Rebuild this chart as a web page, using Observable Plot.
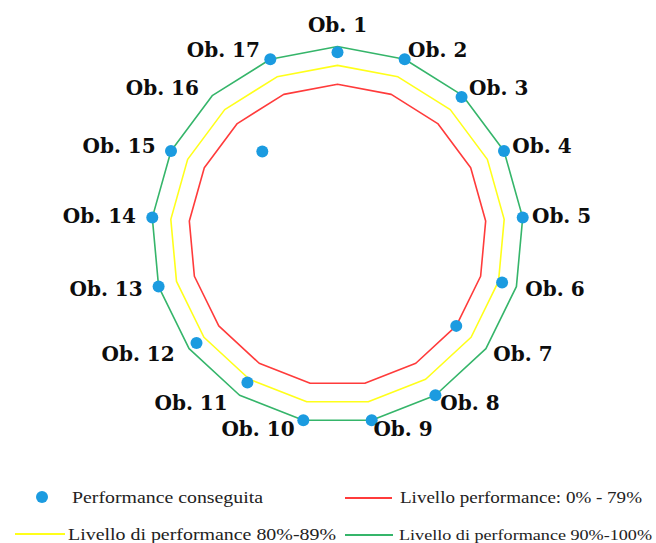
<!DOCTYPE html>
<html>
<head>
<meta charset="utf-8">
<script src="https://cdn.jsdelivr.net/npm/d3@7"></script>
<script src="https://cdn.jsdelivr.net/npm/@observablehq/plot@0.6"></script>
<style>
  html, body { margin: 0; padding: 0; background: #fff; }
  #chart svg { display: block; }
  #legend { display: block; }
</style>
</head>
<body>
<div id="chart"></div>
<svg id="legend" width="656" height="78" xmlns="http://www.w3.org/2000/svg"></svg>
<script>
// ---- Data ----
const categories = ["Ob. 1","Ob. 2","Ob. 3","Ob. 4","Ob. 5","Ob. 6","Ob. 7","Ob. 8","Ob. 9",
  "Ob. 10","Ob. 11","Ob. 12","Ob. 13","Ob. 14","Ob. 15","Ob. 16","Ob. 17"];
const performance = [97, 100, 99, 100, 100, 92, 80, 100, 100, 100, 92, 95, 100, 100, 100, 60, 100];
const levels = [80, 90, 100];
const levelColors = ["#ff3b3b", "#ffff1a", "#35b56a"];
const legendLabels = ["Performance conseguita", "Livello performance: 0% - 79%",
  "Livello di performance 80%-89%", "Livello di performance 90%-100%"];
const pointColor = "#1b9be0";

// ---- Build tables ----
const n = categories.length;
const angle = i => i * 2 * Math.PI / n;
const pts = categories.map((c, i) => ({
  c, v: performance[i],
  x: performance[i] / 100 * Math.sin(angle(i)),
  y: performance[i] / 100 * Math.cos(angle(i))
}));
const ring = (lv) => d3.range(n + 1).map(k => ({
  x: lv / 100 * Math.sin(angle(k % n)),
  y: lv / 100 * Math.cos(angle(k % n))
}));
const labelR = 1.05;
const labels = categories.map((c, i) => ({
  c, s: Math.sin(angle(i)),
  x: labelR * Math.sin(angle(i)),
  y: labelR * Math.cos(angle(i))
}));
const rightLabels = labels.filter(d => d.s > 0.05);
const leftLabels = labels.filter(d => d.s < -0.05);
const topLabels = labels.filter(d => Math.abs(d.s) <= 0.05);

const labelStyle = {fontFamily: "DejaVu Serif", fontWeight: "bold", fontSize: 20, fill: "#0d0d0d"};

const plot = Plot.plot({
  width: 656,
  height: 465,
  x: {domain: [-1, 1], range: [151, 523], axis: null},
  y: {domain: [-1, 1], range: [423, 46], axis: null},
  marks: [
    ...levels.map((lv, j) => Plot.line(ring(lv), {x: "x", y: "y", stroke: levelColors[j], strokeWidth: 1.6})),
    Plot.dot(pts, {x: "x", y: "y", r: 6, fill: pointColor}),
    Plot.text(rightLabels, {x: "x", y: "y", text: "c", textAnchor: "start", dx: 0, ...labelStyle}),
    Plot.text(leftLabels, {x: "x", y: "y", text: "c", textAnchor: "end", dx: -7, ...labelStyle}),
    Plot.text(topLabels, {x: "x", y: "y", text: "c", textAnchor: "middle", lineAnchor: "bottom", dy: -5, ...labelStyle})
  ]
});
document.getElementById("chart").appendChild(plot);

// ---- Legend ----
const lg = d3.select("#legend");
const font = "Liberation Serif";
// row 1
lg.append("circle").attr("cx", 42).attr("cy", 32).attr("r", 6).attr("fill", pointColor);
lg.append("text").attr("x", 72).attr("y", 38).attr("font-family", font).attr("font-size", 17)
  .attr("textLength", 191).attr("lengthAdjust", "spacingAndGlyphs").attr("fill", "#222").text(legendLabels[0]);
lg.append("line").attr("x1", 345).attr("x2", 392).attr("y1", 33).attr("y2", 33).attr("stroke", levelColors[0]).attr("stroke-width", 2);
lg.append("text").attr("x", 400).attr("y", 38).attr("font-family", font).attr("font-size", 17)
  .attr("textLength", 242).attr("lengthAdjust", "spacingAndGlyphs").attr("fill", "#222").text(legendLabels[1]);
// row 2
lg.append("line").attr("x1", 15).attr("x2", 65).attr("y1", 69).attr("y2", 69).attr("stroke", levelColors[1]).attr("stroke-width", 2);
lg.append("text").attr("x", 68).attr("y", 75).attr("font-family", font).attr("font-size", 17)
  .attr("textLength", 268).attr("lengthAdjust", "spacingAndGlyphs").attr("fill", "#222").text(legendLabels[2]);
lg.append("line").attr("x1", 345).attr("x2", 393).attr("y1", 70).attr("y2", 70).attr("stroke", levelColors[2]).attr("stroke-width", 2);
lg.append("text").attr("x", 399).attr("y", 75).attr("font-family", font).attr("font-size", 14)
  .attr("textLength", 253).attr("lengthAdjust", "spacingAndGlyphs").attr("fill", "#222").text(legendLabels[3]);
</script>
</body>
</html>
